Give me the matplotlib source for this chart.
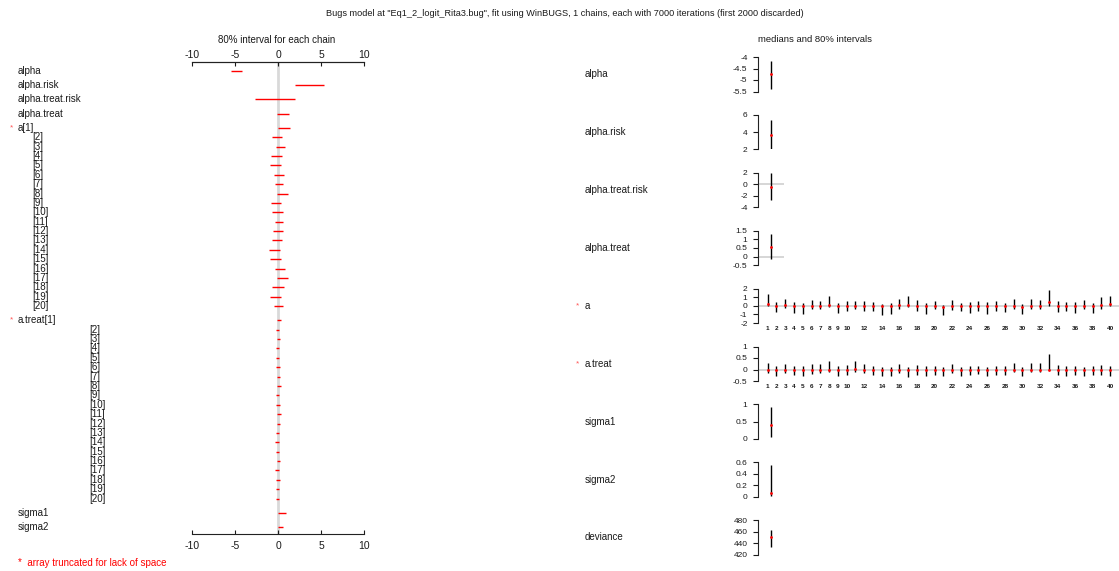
import numpy as np
import matplotlib
matplotlib.use('Agg')
import matplotlib.pyplot as plt
import matplotlib.transforms as mtransforms

plt.rcParams['font.family'] = ['Liberation Sans', 'DejaVu Sans']
plt.rcParams['axes.unicode_minus'] = False

W, H = 1119, 571

# 80% intervals and medians
scalar_names = ['alpha', 'alpha.risk', 'alpha.treat.risk', 'alpha.treat']
scalar_lo = [-5.40, 2.00, -2.72, -0.12]
scalar_hi = [-4.17, 5.38, 1.98, 1.31]
scalar_med = [-4.74, 3.63, -0.41, 0.54]

sigma_names = ['sigma1', 'sigma2']
sigma_lo = [0.05, 0.01]
sigma_hi = [0.93, 0.56]
sigma_med = [0.39, 0.06]

dev_lo = 433.1
dev_hi = 462.9
dev_med = 450.3

a_lo = [-0.05, -0.73, -0.23, -0.85, -0.89, -0.42, -0.31, -0.12, -0.85, -0.65,
        -0.31, -0.54, -0.65, -1.04, -0.89, -0.35, -0.15, -0.65, -0.89, -0.42,
        -1.08, -0.50, -0.62, -0.81, -0.62, -0.89, -0.58, -0.70, -0.39, -1.00,
        -0.39, -0.39, 0.00, -0.70, -0.62, -0.78, -0.31, -0.81, -0.39, 0.00]
a_hi = [1.42, 0.50, 0.81, 0.50, 0.31, 0.69, 0.62, 1.12, 0.38, 0.62,
        0.62, 0.62, 0.50, 0.19, 0.38, 0.81, 1.12, 0.69, 0.31, 0.62,
        0.08, 0.66, 0.35, 0.47, 0.58, 0.39, 0.58, 0.35, 0.74, 0.16,
        0.85, 0.66, 1.82, 0.54, 0.47, 0.47, 0.66, 0.35, 0.97, 1.16]
a_med = [0.27, 0, 0.08, 0, 0, 0, 0, 0.15, 0, 0,
         0, 0, 0, -0.05, 0, 0.08, 0.15, 0, 0, 0,
         -0.10, 0, 0, 0, 0, 0, 0, 0, 0, -0.10,
         0, 0, 0.39, 0, 0, 0, 0, 0, 0.08, 0.27]

at_lo = [-0.15, -0.27, -0.15, -0.23, -0.27, -0.20, -0.17, -0.09, -0.27, -0.23,
         -0.09, -0.17, -0.23, -0.30, -0.27, -0.17, -0.32, -0.23, -0.27, -0.23,
         -0.30, -0.15, -0.30, -0.23, -0.20, -0.27, -0.23, -0.23, -0.12, -0.30,
         -0.12, -0.12, 0.00, -0.23, -0.27, -0.23, -0.30, -0.23, -0.23, -0.27]
at_hi = [0.30, 0.15, 0.26, 0.15, 0.15, 0.23, 0.23, 0.38, 0.15, 0.21,
         0.38, 0.23, 0.15, 0.10, 0.10, 0.23, 0.10, 0.21, 0.15, 0.15,
         0.10, 0.26, 0.10, 0.15, 0.15, 0.10, 0.15, 0.15, 0.29, 0.10,
         0.30, 0.30, 0.66, 0.18, 0.15, 0.15, 0.10, 0.15, 0.18, 0.15]
at_med = [0, -0.03, 0, 0, -0.03, 0, 0, 0, -0.03, 0,
          0.02, 0, 0, -0.02, -0.02, 0, -0.02, 0, -0.03, -0.03,
          -0.03, 0, -0.03, 0, 0, -0.03, 0, 0, 0, -0.03,
          0, 0, 0, 0, 0, 0, -0.03, 0, 0, -0.03]

chain_ticks = [-10, -5, 0, 5, 10]
right_ticks = [[-5.5, -5, -4.5, -4], [2, 4, 6], [-4, -2, 0, 2], [-0.5, 0, 0.5, 1, 1.5],
               [-2, -1, 0, 1, 2], [-0.5, 0, 0.5, 1], [0, 0.5, 1], [0, 0.2, 0.4, 0.6],
               [420, 440, 460, 480]]
idx_ticks = list(range(1, 11)) + list(range(12, 41, 2))
n_show = 20  # left panel truncates arrays

fig = plt.figure(figsize=(W / 100, H / 100), dpi=100)
txt = '#1a1a1a'


def px_axes(x0, y0, x1, y1):
    return fig.add_axes([x0 / W, 1 - y1 / H, (x1 - x0) / W, (y1 - y0) / H])


fig.text(565 / W, 1 - 14 / H,
         'Bugs model at "Eq1_2_logit_Rita3.bug", fit using WinBUGS, 1 chains, each with 7000 iterations (first 2000 discarded)',
         ha='center', va='center', fontsize=6.6, color=txt)

# ---- left: 80% interval for each chain ----
rows = []
for n, lo, hi in zip(scalar_names, scalar_lo, scalar_hi):
    rows.append((n, 18, lo, hi, False, 1.0))
for base, xo, los, his in [('a', 32, a_lo, a_hi), ('a.treat', 89, at_lo, at_hi)]:
    for i in range(n_show):
        if i == 0:
            rows.append((base + '[1]', 18, los[i], his[i], True, 1.0))
        else:
            rows.append(('[%d]' % (i + 1), xo, los[i], his[i], False, 0.66))
for n, lo, hi in zip(sigma_names, sigma_lo, sigma_hi):
    rows.append((n, 18, lo, hi, False, 1.0))

ys = np.cumsum([0] + [r[5] for r in rows[1:]])
unit = (527 - 71) / ys[-1]

axL = px_axes(191.7, 62, 364.3, 534)
axL.set_xlim(-10, 10)
axL.set_ylim(ys[-1] + (534 - 527) / unit, -(71 - 62) / unit)
axL.axvline(0, color='#d9d9d9', lw=2, zorder=0)
lab_tr = mtransforms.blended_transform_factory(mtransforms.IdentityTransform(), axL.transData)
for (lab, xp, lo, hi, star, _), y in zip(rows, ys):
    axL.plot([lo, hi], [y, y], color='red', lw=1.0, solid_capstyle='butt')
    axL.text(xp, y, lab, transform=lab_tr, ha='left', va='center', fontsize=7, color=txt)
    if star:
        axL.text(10, y, '*', transform=lab_tr, ha='left', va='center', fontsize=6, color='#ff5555')
for s in ['left', 'right']:
    axL.spines[s].set_visible(False)
for s in ['top', 'bottom']:
    axL.spines[s].set_color('#222222')
axL.set_yticks([])
axL.set_xticks(chain_ticks)
axL.tick_params(axis='x', direction='in', length=3, pad=5, labelsize=7.5, colors=txt)
top = axL.secondary_xaxis('top')
top.set_xticks(chain_ticks)
top.tick_params(axis='x', direction='in', length=3, pad=1.5, labelsize=7.5, colors=txt)
top.spines['top'].set_color('#222222')
fig.text(277 / W, 1 - 40 / H, '80% interval for each chain', ha='center', va='center',
         fontsize=7, color=txt)
fig.text(18 / W, 1 - 563 / H, '*  array truncated for lack of space', ha='left', va='center',
         fontsize=7, color='red')

# ---- right: medians and 80% intervals ----
panels = [(n, [lo], [hi], [md], False) for n, lo, hi, md in
          zip(scalar_names, scalar_lo, scalar_hi, scalar_med)]
panels.append(('a', a_lo, a_hi, a_med, True))
panels.append(('a.treat', at_lo, at_hi, at_med, True))
panels += [(n, [lo], [hi], [md], False) for n, lo, hi, md in
           zip(sigma_names, sigma_lo, sigma_hi, sigma_med)]
panels.append(('deviance', [dev_lo], [dev_hi], [dev_med], False))

fig.text(815 / W, 1 - 40 / H, 'medians and 80% intervals', ha='center', va='center',
         fontsize=6.8, color=txt)
for k, (name, lo, hi, md, multi) in enumerate(panels):
    y0 = 57 + 57.9 * k
    tks = right_ticks[k]
    xs = np.arange(1, len(lo) + 1)
    if multi:
        ax = px_axes(758, y0, 1119, y0 + 34.5)
        ax.set_xlim(-0.1, 41.0)
        ax.set_xticks(idx_ticks)
        ax.set_xticklabels([str(t) for t in idx_ticks], fontsize=4.6, fontweight='bold')
        ax.tick_params(axis='x', length=0, pad=2.2, colors=txt)
    else:
        ax = px_axes(758, y0, 784, y0 + 34.5)
        ax.set_xlim(0, 2)
        ax.set_xticks([])
    ax.set_ylim(tks[0], tks[-1])
    if tks[0] < 0 < tks[-1]:
        ax.axhline(0, color='#cfcfcf', lw=1.2, zorder=0)
    ax.vlines(xs, lo, hi, color='black', lw=1.0)
    ax.plot(xs, md, 'o', color='red', ms=2, mew=0, zorder=3)
    for s in ['top', 'right', 'bottom']:
        ax.spines[s].set_visible(False)
    ax.spines['left'].set_color('#222222')
    ax.set_yticks(tks)
    ax.set_yticklabels(['%g' % t for t in tks])
    ax.tick_params(axis='y', direction='out', length=3.5, pad=4, labelsize=6, colors=txt)
    ax.patch.set_visible(False)
    tr = mtransforms.blended_transform_factory(mtransforms.IdentityTransform(), ax.transAxes)
    ax.text(585, 0.5, name, transform=tr, ha='left', va='center', fontsize=7, color=txt)
    if multi:
        ax.text(576, 0.5, '*', transform=tr, ha='left', va='center', fontsize=6, color='#ff5555')

fig.savefig('out.png', dpi=100)
